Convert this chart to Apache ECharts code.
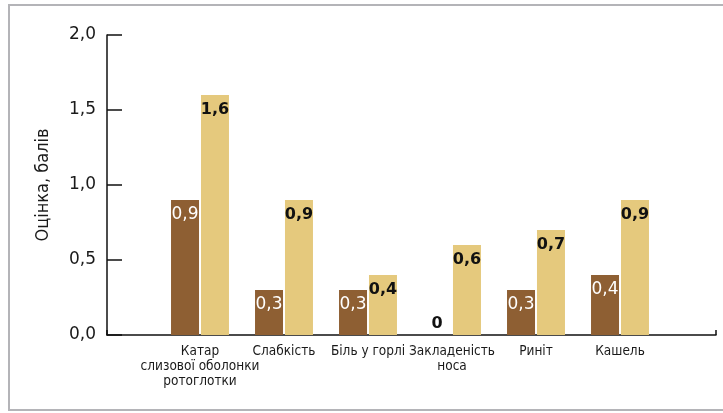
<!DOCTYPE html>
<html>
<head>
<meta charset="utf-8">
<script src="https://cdn.jsdelivr.net/npm/echarts@6/dist/echarts.min.js"></script>
<style>
html,body{margin:0;padding:0;background:#fff;}
#chart{width:723px;height:413px;}
</style>
</head>
<body>
<div id="chart"></div>
<script>
const categories = ['Катар\nслизової оболонки\nротоглотки', 'Слабкість', 'Біль у горлі', 'Закладеність\nноса', 'Риніт', 'Кашель'];
const seriesDark = [0.9, 0.3, 0.3, 0, 0.3, 0.4];
const seriesLight = [1.6, 0.9, 0.4, 0.6, 0.7, 0.9];
const yTicks = [0, 0.5, 1.0, 1.5, 2.0];
const yAxisTitle = 'Оцінка, балів';

const narrow = "'Liberation Sans Narrow', 'DejaVu Sans Condensed', 'Noto Sans', sans-serif";
const numFont = "'DejaVu Sans', sans-serif";
const fmt = v => v === 0 ? '0' : v.toFixed(1).replace('.', ',');

function buildData(values) {
  return values.map(v => {
    if (v === 0) {
      return { value: v, label: { position: 'top', distance: 3, color: '#111', fontWeight: 'bold', fontSize: 16 } };
    }
    return v;
  });
}

const chart = echarts.init(document.getElementById('chart'), null, { renderer: 'canvas' });
chart.setOption({
  animation: false,
  backgroundColor: '#fff',
  graphic: [{
    type: 'polyline', silent: true,
    shape: { points: [[760, 5], [9, 5], [9, 410], [760, 410]] },
    style: { fill: 'none', stroke: '#b4b4b8', lineWidth: 2 }
  }],
  grid: [
    { left: 107, right: 7, top: 35, bottom: 78 },
    { left: 158, right: 61, top: 35, bottom: 78 }
  ],
  xAxis: [
    {
      gridIndex: 0, type: 'value', min: 0, max: 1, interval: 1,
      axisLine: { show: true, lineStyle: { color: '#111', width: 1.5 } },
      axisTick: { show: true, inside: true, length: 5, lineStyle: { color: '#111', width: 1.5 } },
      axisLabel: { show: false }, splitLine: { show: false }
    },
    {
      gridIndex: 1, type: 'category', data: categories,
      axisLine: { show: false }, axisTick: { show: false },
      axisLabel: { margin: 9, fontFamily: narrow, fontSize: 13.5, lineHeight: 15, color: '#1a1a1a', interval: 0 }
    }
  ],
  yAxis: [
    {
      gridIndex: 0, type: 'value', min: yTicks[0], max: yTicks[yTicks.length - 1], interval: yTicks[1] - yTicks[0],
      name: yAxisTitle, nameLocation: 'middle', nameRotate: 90, nameGap: 55,
      nameTextStyle: { fontFamily: narrow, fontSize: 18, color: '#1a1a1a' },
      axisLine: { show: true, lineStyle: { color: '#111', width: 1.5 } },
      axisTick: { show: true, inside: true, length: 15, lineStyle: { color: '#111', width: 1.5 } },
      axisLabel: { margin: 11, fontFamily: numFont, fontSize: 17, color: '#1a1a1a', formatter: v => v.toFixed(1).replace('.', ',') },
      splitLine: { show: false }
    },
    { gridIndex: 1, type: 'value', min: yTicks[0], max: yTicks[yTicks.length - 1], show: false }
  ],
  series: [
    {
      name: 'Темні', type: 'bar', xAxisIndex: 1, yAxisIndex: 1,
      barWidth: 28, barGap: '7%',
      itemStyle: { color: '#8e5f33' },
      label: { show: true, position: 'insideTop', distance: 6, color: '#fff', fontFamily: numFont, fontSize: 17, formatter: p => fmt(p.value) },
      data: buildData(seriesDark)
    },
    {
      name: 'Світлі', type: 'bar', xAxisIndex: 1, yAxisIndex: 1,
      barWidth: 28, barGap: '7%',
      itemStyle: { color: '#e5c97d' },
      label: { show: true, position: 'insideTop', distance: 7, color: '#111', fontWeight: 'bold', fontFamily: numFont, fontSize: 16, formatter: p => fmt(p.value) },
      data: buildData(seriesLight)
    }
  ]
});
</script>
</body>
</html>
